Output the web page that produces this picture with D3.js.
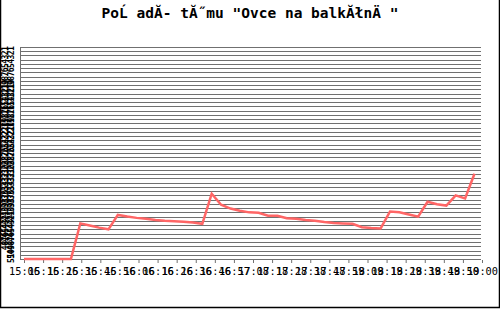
<!DOCTYPE html>
<meta charset="utf-8">
<style>
body { margin: 0; background: #fff; }
svg { display: block; }
text { font-family: "DejaVu Sans Mono", monospace; fill: #000; }
</style>
<svg width="500" height="309"></svg>
<script src="https://cdn.jsdelivr.net/npm/d3@7"></script>
<script>
var title = 'PoĹ adĂ- tĂ˝mu "Ovce na balkĂłnÄ "';

// x labels (sample times), evenly spaced under the plot
var timeLabels = ["15:06","15:16","15:26","15:36","15:46","15:56","16:06","16:16","16:26",
  "16:36","16:46","16:57","17:08","17:18","17:28","17:38","17:48","17:59","18:09","18:19",
  "18:29","18:39","18:49","18:50","19:00"];

// minutes after 15:06 and the plotted value
var minutes = [0,5,10,15,20,25,30,35,40,45,50,55,60,65,70,75,80,85,90,95,100,105,110,115,
  120,125,130,135,140,145,150,155,160,165,170,175,180,185,190,195,200,205,210,215,220,225,230,235,240];
var ranks = [51,51,51,51,51,51,42.6,43.1,43.6,44.0,40.6,41.0,41.3,41.5,41.8,42.0,42.1,42.2,42.4,42.7,
  35.6,38.2,39.1,39.6,40.0,40.1,40.8,40.8,41.4,41.5,41.8,42.0,42.3,42.5,42.6,42.7,43.5,43.7,43.8,
  39.8,40.0,40.5,41.0,37.5,38.1,38.4,36.0,36.7,30.9];

// y grid values
var gridValues = d3.range(1, 52);

var svg = d3.select("svg"),
    width = +svg.attr("width"),
    height = +svg.attr("height");

var plotLeft = 20, plotRight = 481, plotTop = 47, plotBottom = 259;

var x = d3.scaleLinear().domain([0, 244]).range([24, 482]);
var xl = d3.scalePoint().domain(timeLabels).range([24, 482]);
var y = d3.scaleLinear().domain([51, 1]).range([plotBottom, plotTop]);

// border
svg.append("path")
    .attr("d", "M0.5,0V" + (height - 1.5) + "H" + (width - 0.5) + "V0")
    .attr("fill", "none")
    .attr("stroke", "#000")
    .attr("stroke-width", 1.5);

svg.append("text")
    .attr("x", width / 2)
    .attr("y", 18)
    .attr("text-anchor", "middle")
    .style("font-size", "14.5px")
    .style("font-weight", "bold")
    .text(title);

// horizontal grid
svg.append("g")
    .selectAll("line")
    .data(gridValues)
    .enter().append("line")
      .attr("x1", plotLeft)
      .attr("x2", plotRight)
      .attr("y1", function(d) { return Math.round(y(d)) + 0.5; })
      .attr("y2", function(d) { return Math.round(y(d)) + 0.5; })
      .attr("stroke", "#707070")
      .attr("shape-rendering", "crispEdges");

svg.append("line")
    .attr("x1", plotLeft + 0.5).attr("x2", plotLeft + 0.5)
    .attr("y1", Math.round(y(1)) + 0.5).attr("y2", Math.round(y(51)) + 0.5)
    .attr("stroke", "#707070");

// y labels, tiny and crowded, two columns
[8, 14].forEach(function(cx, k) {
  svg.append("g")
    .selectAll("text")
    .data(k ? gridValues : gridValues.slice(0, 48))
    .enter().append("text")
      .attr("transform", function(d) { return "translate(" + cx + "," + (y(d) + 4) + ")rotate(-90)"; })
      .style("font-size", "8px")
      .style("font-weight", "bold")
      .text(function(d) { return d; });
});

// x axis
var xAxis = d3.axisBottom(xl).tickSize(3).tickPadding(5);
var gx = svg.append("g")
    .attr("transform", "translate(0," + (plotBottom + 1) + ")")
    .call(xAxis);
gx.select(".domain").remove();
gx.selectAll("line").attr("stroke", "#707070");
gx.selectAll("text")
    .style("font-family", "DejaVu Sans Mono, monospace")
    .style("font-size", "10.3px");

// data line
svg.append("path")
    .datum(minutes)
    .attr("fill", "none")
    .attr("stroke", "#ff6666")
    .attr("stroke-width", 2.5)
    .attr("d", d3.line()
        .x(function(d) { return x(d); })
        .y(function(d, i) { return y(ranks[i]); }));
</script>
